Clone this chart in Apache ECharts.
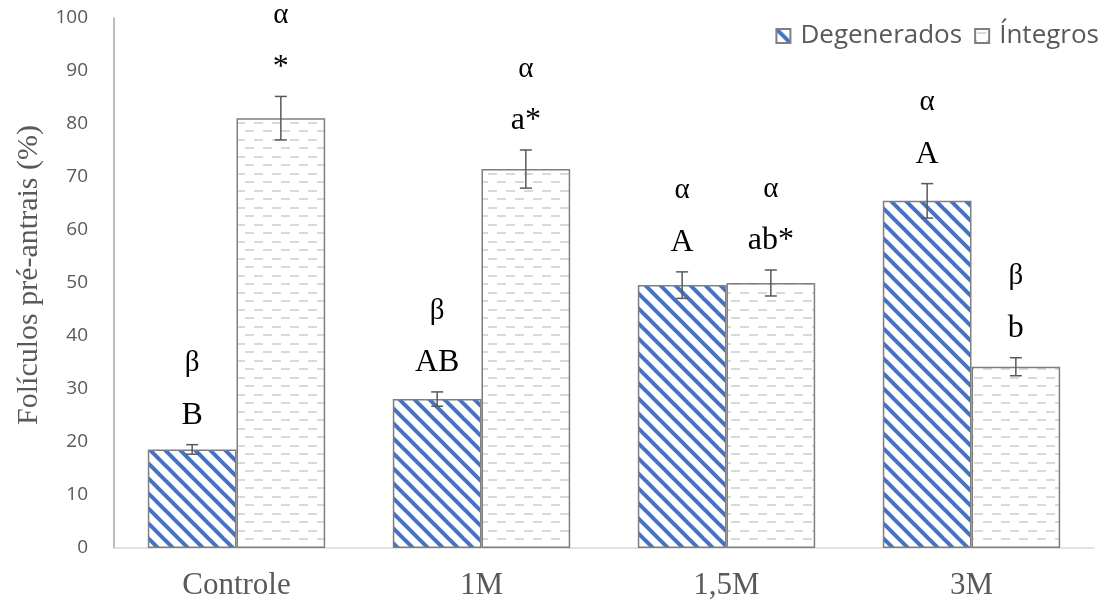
<!DOCTYPE html>
<html>
<head>
<meta charset="utf-8">
<script src="https://cdn.jsdelivr.net/npm/echarts@6/dist/echarts.min.js"></script>
<style>
  html, body { margin: 0; padding: 0; background: #fff; }
  #chart { width: 1112px; height: 602px; }
</style>
</head>
<body>
<div id="chart"></div>
<script>
const categories = ['Controle', '1M', '1,5M', '3M']
const degenerados = [18.6, 28.1, 49.6, 65.5]
const degeneradosErr = [0.9, 1.35, 2.5, 3.25]
const degenaradosLetters = ['B', 'AB', 'A', 'A']
const degeneradosGreek = ['β', 'β', 'α', 'α']
const integros = [81.1, 71.5, 50.0, 34.2]
const integrosErr = [4.1, 3.6, 2.45, 1.7]
const integrosLetters = ['*', 'a*', 'ab*', 'b']
const integrosGreek = ['α', 'α', 'α', 'β']

const catGap = 0.276

function stripeTile() {
  const s = 15
  const c = document.createElement('canvas')
  c.width = s
  c.height = s
  const ctx = c.getContext('2d')
  ctx.fillStyle = '#ffffff'
  ctx.fillRect(0, 0, s, s)
  ctx.strokeStyle = '#4472C4'
  ctx.lineWidth = 4
  for (let x0 = -s; x0 <= s; x0 += s) {
    ctx.beginPath()
    ctx.moveTo(x0 - 2, -2)
    ctx.lineTo(x0 + s + 2, s + 2)
    ctx.stroke()
  }
  return c
}

function dashTile() {
  const w = 18, h = 17
  const c = document.createElement('canvas')
  c.width = w
  c.height = h
  const ctx = c.getContext('2d')
  ctx.fillStyle = '#ffffff'
  ctx.fillRect(0, 0, w, h)
  ctx.fillStyle = '#d9d9d9'
  ctx.fillRect(2, 3, 9, 2)
  ctx.fillRect(11, 11, 7, 2)
  ctx.fillRect(0, 11, 2, 2)
  return c
}

const stripeColor = { image: stripeTile(), repeat: 'repeat' }
const dashColor = { image: dashTile(), repeat: 'repeat' }

// error bars + letters drawn next to each bar
function errorSeries(name, values, errs, letters, greek, side) {
  return {
    name: name + '-err',
    type: 'custom',
    z: 5,
    silent: true,
    data: values.map((v, i) => [i, v, errs[i]]),
    renderItem(params, api) {
      const i = api.value(0)
      const v = api.value(1)
      const e = api.value(2)
      const catW = api.size([1, 0])[0]
      const barW = catW * (1 - catGap) / 2
      const center = api.coord([i, v])
      const x = center[0] + side * barW / 2
      const top = api.coord([i, v + e])[1]
      const bot = api.coord([i, v - e])[1]
      const line = { stroke: '#595959', lineWidth: 1.5 }
      const cap = 6
      return {
        type: 'group',
        children: [
          { type: 'line', shape: { x1: x, y1: top, x2: x, y2: bot }, style: line },
          { type: 'line', shape: { x1: x - cap, y1: top, x2: x + cap, y2: top }, style: line },
          { type: 'line', shape: { x1: x - cap, y1: bot, x2: x + cap, y2: bot }, style: line },
          {
            type: 'text',
            style: {
              x: x, y: top - 29, text: letters[i],
              fill: '#000', font: '32px "Liberation Serif"',
              align: 'center', verticalAlign: 'middle'
            }
          },
          {
            type: 'text',
            style: {
              x: x, y: top - 81, text: greek[i],
              fill: '#000', font: '29px "Liberation Serif"',
              align: 'center', verticalAlign: 'middle'
            }
          }
        ]
      }
    }
  }
}

const option = {
  animation: false,
  backgroundColor: '#fff',
  grid: {
    left: 114,
    right: 18,
    top: 18,
    bottom: 54
  },
  legend: {
    right: 8,
    top: 18,
    itemWidth: 14,
    itemHeight: 14,
    itemGap: 12,
    icon: 'rect',
    textStyle: {
      color: '#595959',
      fontSize: 26,
      fontFamily: 'Open Sans',
      padding: [0, 0, 0, 5]
    },
    data: ['Degenerados', 'Íntegros']
  },
  xAxis: {
    type: 'category',
    data: categories,
    axisLine: { lineStyle: { color: '#d9d9d9', width: 1.5 } },
    axisTick: { show: false },
    axisLabel: {
      margin: 22,
      color: '#595959',
      fontSize: 31,
      fontFamily: 'Liberation Serif'
    }
  },
  yAxis: {
    type: 'value',
    min: 0,
    max: 100,
    interval: 10,
    name: 'Folículos pré-antrais (%)',
    nameLocation: 'middle',
    nameGap: 68,
    nameTextStyle: {
      color: '#595959',
      fontSize: 30,
      fontFamily: 'Liberation Serif',
      padding: [0, 0, 0, 16]
    },
    axisLine: { show: true, lineStyle: { color: '#a6a6a6', width: 1.5 } },
    axisTick: { show: false },
    splitLine: { show: false },
    axisLabel: {
      margin: 26,
      color: '#595959',
      fontSize: 19,
      fontFamily: 'Open Sans'
    }
  },
  series: [
    {
      name: 'Degenerados',
      type: 'bar',
      barGap: '0%',
      barCategoryGap: (catGap * 100) + '%',
      data: degenerados,
      itemStyle: { color: stripeColor, borderColor: '#7f7f7f', borderWidth: 1.5 }
    },
    {
      name: 'Íntegros',
      type: 'bar',
      data: integros,
      itemStyle: { color: dashColor, borderColor: '#7f7f7f', borderWidth: 1.5 }
    },
    errorSeries('Degenerados', degenerados, degeneradosErr, degenaradosLetters, degeneradosGreek, -1),
    errorSeries('Íntegros', integros, integrosErr, integrosLetters, integrosGreek, 1)
  ]
}

const chart = echarts.init(document.getElementById('chart'))
chart.setOption(option)
</script>
</body>
</html>
